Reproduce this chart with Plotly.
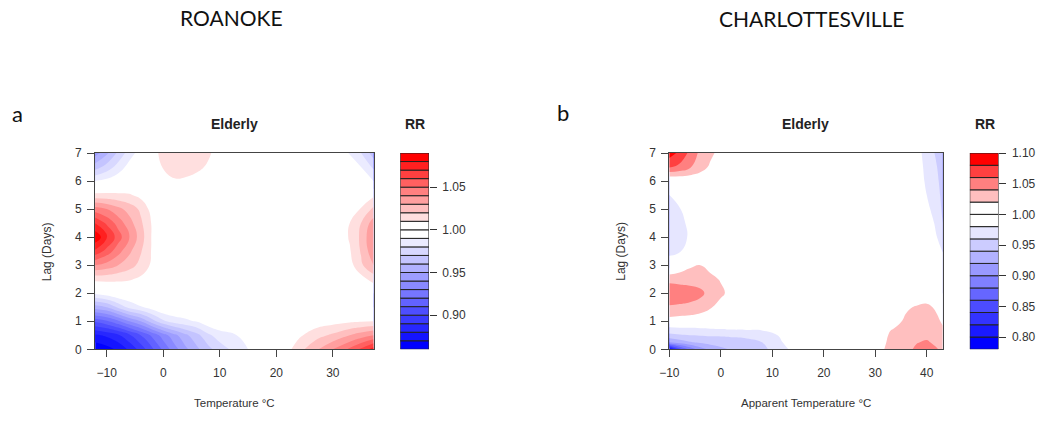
import plotly.graph_objects as go

# ---------------- data: panel a (ROANOKE, Temperature) ----------------
temp_a = [-12.1, -10, -8, -6, -4, -2, 0, 2, 4, 6, 8, 10, 13, 16, 19, 22, 24, 27, 30, 33, 35, 37.2]
lag_a = [0, 0.5, 1, 1.5, 2, 2.5, 3, 3.5, 4, 4.5, 5, 5.5, 6, 6.5, 7]
rr_a = [
    [0.862, 0.866, 0.872, 0.882, 0.894, 0.908, 0.922, 0.936, 0.948, 0.958, 0.967, 0.975, 0.984, 0.993, 1.000, 1.007, 1.016, 1.028, 1.040, 1.052, 1.062, 1.075],
    [0.878, 0.882, 0.888, 0.898, 0.910, 0.922, 0.935, 0.947, 0.958, 0.967, 0.978, 0.985, 0.990, 0.997, 1.000, 1.000, 1.008, 1.016, 1.022, 1.030, 1.035, 1.040],
    [0.912, 0.918, 0.928, 0.940, 0.950, 0.965, 0.978, 0.985, 0.988, 0.991, 0.997, 1.000, 1.000, 1.000, 1.000, 1.000, 1.000, 1.004, 1.006, 1.008, 1.009, 1.010],
    [0.955, 0.960, 0.972, 0.983, 0.989, 0.995, 1.000, 1.000, 0.999, 1.000, 1.000, 1.000, 1.000, 1.000, 1.000, 1.000, 1.000, 1.000, 1.000, 1.000, 1.000, 1.000],
    [0.992, 0.996, 1.000, 1.000, 1.000, 1.000, 1.000, 1.000, 1.000, 1.000, 1.000, 1.000, 1.000, 1.000, 1.000, 1.000, 1.000, 1.000, 1.000, 1.000, 1.000, 1.000],
    [1.013, 1.013, 1.012, 1.011, 1.008, 1.003, 1.000, 1.000, 1.000, 1.000, 1.000, 1.000, 1.000, 1.000, 1.000, 1.000, 1.000, 1.000, 1.000, 1.000, 1.006, 1.014],
    [1.040, 1.036, 1.030, 1.024, 1.017, 1.008, 1.000, 1.000, 1.000, 1.000, 1.000, 1.000, 1.000, 1.000, 1.000, 1.000, 1.000, 1.000, 1.000, 1.006, 1.018, 1.030],
    [1.068, 1.056, 1.044, 1.032, 1.021, 1.009, 1.000, 1.000, 1.000, 1.000, 1.000, 1.000, 1.000, 1.000, 1.000, 1.000, 1.000, 1.000, 1.000, 1.009, 1.021, 1.037],
    [1.088, 1.072, 1.055, 1.040, 1.025, 1.009, 1.000, 1.000, 1.000, 1.000, 1.000, 1.000, 1.000, 1.000, 1.000, 1.000, 1.000, 1.000, 1.000, 1.011, 1.022, 1.040],
    [1.070, 1.058, 1.046, 1.034, 1.022, 1.009, 1.000, 1.000, 1.000, 1.000, 1.000, 1.000, 1.000, 1.000, 1.000, 1.000, 1.000, 1.000, 1.000, 1.010, 1.020, 1.035],
    [1.045, 1.040, 1.033, 1.026, 1.018, 1.006, 1.000, 1.000, 1.000, 1.000, 1.000, 1.000, 1.000, 1.000, 1.000, 1.000, 1.000, 1.000, 1.000, 1.003, 1.011, 1.022],
    [1.013, 1.013, 1.012, 1.011, 1.007, 1.000, 1.000, 1.000, 1.000, 1.000, 1.000, 1.000, 1.000, 1.000, 1.000, 1.000, 1.000, 1.000, 1.000, 1.000, 1.000, 1.008],
    [0.990, 0.993, 0.997, 1.000, 1.000, 1.000, 1.003, 1.009, 1.008, 1.005, 1.000, 1.000, 1.000, 1.000, 1.000, 1.000, 1.000, 1.000, 1.000, 1.000, 1.000, 0.990],
    [0.965, 0.974, 0.984, 0.994, 1.000, 1.002, 1.011, 1.014, 1.015, 1.013, 1.008, 1.002, 1.000, 1.000, 1.000, 1.000, 1.000, 1.000, 1.000, 0.998, 0.990, 0.978],
    [0.945, 0.958, 0.972, 0.985, 0.995, 1.005, 1.014, 1.017, 1.018, 1.016, 1.012, 1.004, 1.000, 1.000, 1.000, 1.000, 1.000, 1.000, 1.000, 0.989, 0.980, 0.965],
]

# ---------------- data: panel b (CHARLOTTESVILLE, Apparent Temperature) ----------------
temp_b = [-10, -8, -6, -4, -2, 0, 2, 5, 8, 11, 14, 18, 22, 26, 30, 33, 36, 38, 40, 42, 43.1]
lag_b = [0, 0.25, 0.5, 0.75, 1, 1.5, 2, 2.5, 3, 3.5, 4, 4.5, 5, 5.5, 6, 6.5, 7]
rr_b = [
    [0.790, 0.850, 0.885, 0.910, 0.925, 0.935, 0.942, 0.948, 0.955, 0.968, 0.985, 1.000, 1.000, 1.000, 1.006, 1.030, 1.035, 1.043, 1.047, 1.041, 1.036],
    [0.920, 0.930, 0.938, 0.944, 0.948, 0.950, 0.952, 0.955, 0.960, 0.975, 0.990, 1.000, 1.000, 1.000, 1.000, 1.028, 1.033, 1.039, 1.042, 1.036, 1.032],
    [0.955, 0.958, 0.960, 0.961, 0.962, 0.962, 0.963, 0.964, 0.966, 0.980, 0.995, 1.000, 1.000, 1.000, 1.000, 1.024, 1.030, 1.034, 1.036, 1.031, 1.027],
    [0.975, 0.977, 0.978, 0.980, 0.981, 0.982, 0.984, 0.985, 0.986, 0.995, 1.000, 1.000, 1.000, 1.000, 1.000, 1.018, 1.027, 1.031, 1.032, 1.027, 1.022],
    [1.012, 1.010, 1.008, 1.004, 1.000, 0.996, 0.995, 0.995, 0.996, 1.000, 1.000, 1.000, 1.000, 1.000, 1.000, 1.010, 1.024, 1.028, 1.029, 1.024, 1.017],
    [1.038, 1.037, 1.036, 1.032, 1.022, 1.010, 1.000, 1.000, 1.000, 1.000, 1.000, 1.000, 1.000, 1.000, 1.000, 1.000, 1.017, 1.022, 1.025, 1.016, 1.005],
    [1.052, 1.050, 1.047, 1.044, 1.034, 1.025, 1.012, 1.000, 1.000, 1.000, 1.000, 1.000, 1.000, 1.000, 1.000, 1.000, 1.000, 1.004, 1.005, 1.000, 1.000],
    [1.035, 1.034, 1.034, 1.032, 1.026, 1.018, 1.006, 1.000, 1.000, 1.000, 1.000, 1.000, 1.000, 1.000, 1.000, 1.000, 1.000, 1.000, 1.000, 1.000, 1.000],
    [0.990, 1.005, 1.016, 1.020, 1.012, 1.005, 1.000, 1.000, 1.000, 1.000, 1.000, 1.000, 1.000, 1.000, 1.000, 1.000, 1.000, 1.000, 1.000, 1.000, 0.990],
    [0.975, 0.978, 0.990, 1.000, 1.000, 1.000, 1.000, 1.000, 1.000, 1.000, 1.000, 1.000, 1.000, 1.000, 1.000, 1.000, 1.000, 1.000, 1.000, 0.990, 0.979],
    [0.968, 0.972, 0.983, 1.000, 1.000, 1.000, 1.000, 1.000, 1.000, 1.000, 1.000, 1.000, 1.000, 1.000, 1.000, 1.000, 1.000, 1.000, 0.995, 0.980, 0.970],
    [0.970, 0.974, 0.985, 1.000, 1.000, 1.000, 1.000, 1.000, 1.000, 1.000, 1.000, 1.000, 1.000, 1.000, 1.000, 1.000, 1.000, 1.000, 0.990, 0.976, 0.960],
    [0.974, 0.979, 0.990, 1.000, 1.000, 1.000, 1.000, 1.000, 1.000, 1.000, 1.000, 1.000, 1.000, 1.000, 1.000, 1.000, 1.000, 0.998, 0.984, 0.972, 0.956],
    [0.980, 0.988, 0.995, 1.000, 1.000, 1.000, 1.000, 1.000, 1.000, 1.000, 1.000, 1.000, 1.000, 1.000, 1.000, 1.000, 1.000, 0.994, 0.980, 0.968, 0.953],
    [1.000, 1.002, 1.004, 1.003, 1.000, 1.000, 1.000, 1.000, 1.000, 1.000, 1.000, 1.000, 1.000, 1.000, 1.000, 1.000, 1.000, 0.990, 0.977, 0.964, 0.950],
    [1.062, 1.055, 1.042, 1.030, 1.016, 1.005, 1.000, 1.000, 1.000, 1.000, 1.000, 1.000, 1.000, 1.000, 1.000, 1.000, 1.000, 0.989, 0.975, 0.960, 0.945],
    [1.090, 1.075, 1.055, 1.035, 1.025, 1.012, 1.000, 1.000, 1.000, 1.000, 1.000, 1.000, 1.000, 1.000, 1.000, 1.000, 1.000, 0.988, 0.972, 0.956, 0.940],
]

# ---------------- contour levels (key band edges) ----------------
levels_a = [0.86, 0.87, 0.88, 0.89, 0.90, 0.91, 0.92, 0.93, 0.94, 0.95, 0.96, 0.97,
            0.98, 0.99, 1.00, 1.01, 1.02, 1.03, 1.04, 1.05, 1.06, 1.07, 1.08, 1.09]
levels_b = [0.78, 0.80, 0.82, 0.84, 0.86, 0.88, 0.90, 0.92, 0.94, 0.96, 0.98,
            1.00, 1.02, 1.04, 1.06, 1.08, 1.10]

# ---------------- ticks / labels ----------------
xticks_a = [-10, 0, 10, 20, 30]
xticks_b = [-10, 0, 10, 20, 30, 40]
lag_ticks = [0, 1, 2, 3, 4, 5, 6, 7]
cbticks_a = [0.90, 0.95, 1.00, 1.05]
cbticks_b = [0.80, 0.85, 0.90, 0.95, 1.00, 1.05, 1.10]

W, H = 1050, 424
FONT = "Liberation Sans, Arial, sans-serif"
TITLE_FONT = "Lato, Open Sans, sans-serif"


def ramp(c0, c1, n):
    if n == 1:
        return [c0]
    return [tuple(round(c0[i] + (c1[i] - c0[i]) * k / (n - 1)) for i in range(3)) for k in range(n)]


def rgb(c):
    return "rgb(%d,%d,%d)" % c


def band_scale(cols):
    n = len(cols)
    scale = []
    for k, c in enumerate(cols):
        scale.append([max(0.0, (k - 0.5) / (n - 1)), rgb(c)])
        scale.append([min(1.0, (k + 0.5) / (n - 1)), rgb(c)])
    return scale


def palette(levels):
    nb = sum(1 for v in levels if v < 1.0 - 1e-9)
    nr = sum(1 for v in levels if v > 1.0 + 1e-9)
    return ramp((0, 0, 255), (255, 255, 255), nb) + ramp((255, 255, 255), (255, 0, 0), nr)


cols_a = palette(levels_a)
cols_b = palette(levels_b)


def px(v):
    return v / W


def py(v):
    return 1 - v / H


fig = go.Figure()


def add_panel(x, y, z, levels, cols, xa, ya, kx, ky):
    size = round(levels[1] - levels[0], 6)
    fig.add_trace(go.Contour(
        x=x, y=y, z=z, xaxis=xa, yaxis=ya, colorscale=band_scale(cols), autocontour=False,
        contours=dict(start=levels[1], end=levels[-2], size=size, coloring="fill", showlines=False),
        line=dict(smoothing=1.3, width=0), showscale=False, hoverinfo="skip"))
    # colour key: one band per contour interval
    fig.add_trace(go.Bar(
        x=[0] * (len(levels) - 1),
        y=[round(levels[k + 1] - levels[k], 6) for k in range(len(levels) - 1)],
        base=levels[:-1], width=1, xaxis=kx, yaxis=ky, cliponaxis=False,
        marker=dict(color=[rgb(c) for c in cols], line=dict(color="#222", width=1)),
        hoverinfo="skip", showlegend=False))


add_panel(temp_a, lag_a, rr_a, levels_a, cols_a, "x", "y", "x3", "y3")
add_panel(temp_b, lag_b, rr_b, levels_b, cols_b, "x2", "y2", "x4", "y4")

axis_common = dict(showgrid=False, zeroline=False, showline=True, mirror=True,
                   linecolor="#444", linewidth=1, ticks="outside", ticklen=7,
                   tickcolor="#444", tickfont=dict(family=FONT, size=12, color="#333"))
key_y = dict(showgrid=False, zeroline=False, showline=False, side="right",
             ticks="outside", ticklen=7, tickcolor="#333", tickformat=".2f",
             ticklabelstandoff=3, tickfont=dict(family=FONT, size=12, color="#333"))
key_x = dict(visible=False, range=[-0.5, 0.5], fixedrange=True)

fig.update_layout(
    width=W, height=H, margin=dict(l=0, r=0, t=0, b=0), barmode="overlay",
    paper_bgcolor="white", plot_bgcolor="white", showlegend=False,
    xaxis=dict(domain=[px(86), px(367)], range=[-12.05, 37.2], tickvals=xticks_a,
               anchor="y", ticklabelstandoff=5, **axis_common),
    yaxis=dict(domain=[py(354), py(151)], range=[0, 7], tickvals=lag_ticks,
               anchor="x", ticklabelstandoff=3, **axis_common),
    xaxis2=dict(domain=[px(665.7), px(941.7)], range=[-10, 43.1], tickvals=xticks_b,
                anchor="y2", ticklabelstandoff=5, **axis_common),
    yaxis2=dict(domain=[py(354), py(151)], range=[0, 7], tickvals=lag_ticks,
                anchor="x2", ticklabelstandoff=3, **axis_common),
    xaxis3=dict(domain=[px(394), px(423)], anchor="y3", **key_x),
    yaxis3=dict(domain=[py(354), py(151)], range=[levels_a[0], levels_a[-1]], anchor="x3",
                tickvals=cbticks_a, **key_y),
    xaxis4=dict(domain=[px(969), px(998)], anchor="y4", **key_x),
    yaxis4=dict(domain=[py(354), py(151)], range=[levels_b[0], levels_b[-1]], anchor="x4",
                tickvals=cbticks_b, **key_y),
)


def ann(text, x, y, size, bold=False, family=FONT, color="#222", angle=0, xanchor="center"):
    fig.add_annotation(text=("<b>%s</b>" % text) if bold else text, x=px(x), y=py(y),
                       xref="paper", yref="paper", xanchor=xanchor, yanchor="middle",
                       showarrow=False, textangle=angle,
                       font=dict(family=family, size=size, color=color))


ann("ROANOKE", 224, 11, 21, family=TITLE_FONT, color="#111")
ann("CHARLOTTESVILLE", 810, 12, 21, family=TITLE_FONT, color="#111")
ann("a", 0, 110, 22, family=TITLE_FONT, color="#111", xanchor="left")
ann("b", 550, 109, 22, family=TITLE_FONT, color="#111", xanchor="left")

ann("Elderly", 227, 121, 14, bold=True)
ann("RR", 409, 121, 14, bold=True)
ann("Elderly", 803, 121, 14, bold=True)
ann("RR", 984, 121, 14, bold=True)

ann("Temperature °C", 227, 410, 11.5, color="#333")
ann("Apparent Temperature °C", 804, 410, 11.5, color="#333")
ann("Lag (Days)", 37, 253, 12, color="#333", angle=-90)
ann("Lag (Days)", 617, 253, 12, color="#333", angle=-90)

# remove the browser's default 8px page margin so the figure sits at (0, 0); hide the modebar
fig.write_html("out.html", config={"displayModeBar": False},
               post_script="document.body.style.margin='0px';")
